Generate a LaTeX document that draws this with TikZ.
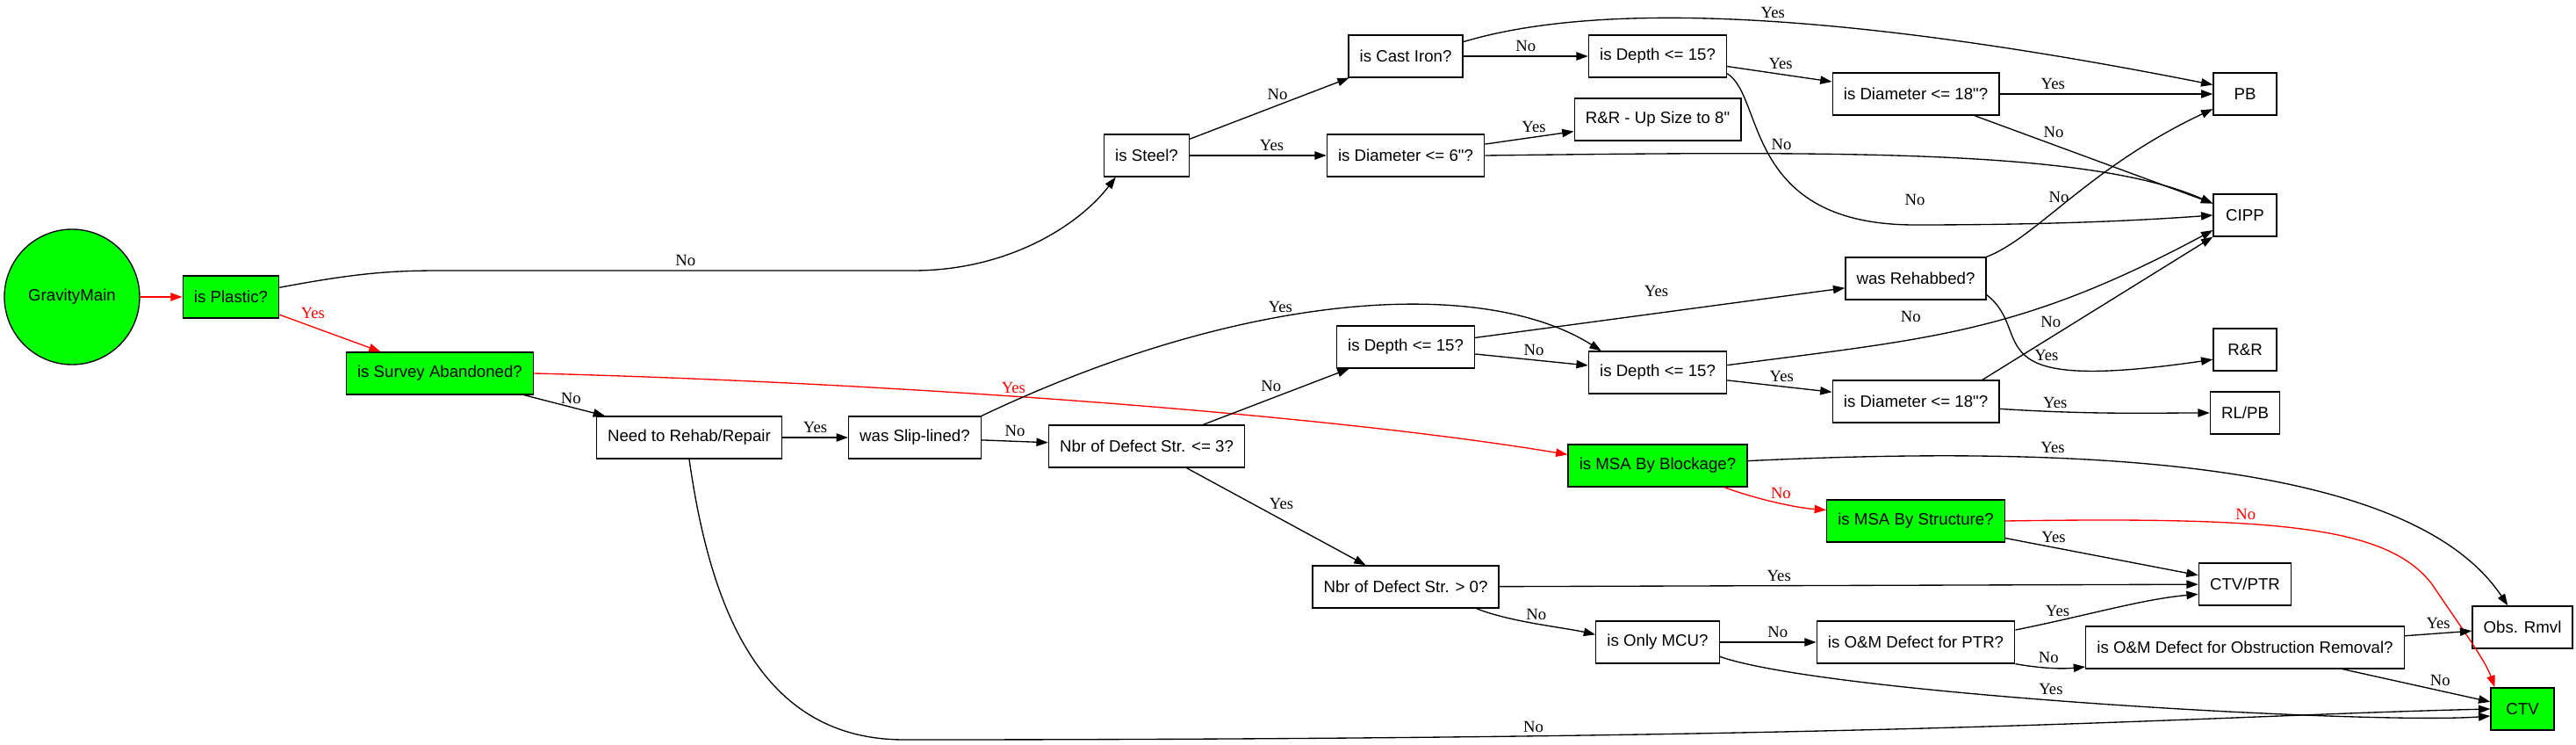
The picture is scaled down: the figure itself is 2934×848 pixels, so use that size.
\documentclass[tikz,border=0pt]{standalone}
\usepackage{fontspec}
\setmainfont{Liberation Serif}
\newfontfamily\boxfont{Liberation Sans}
\usetikzlibrary{arrows.meta}
\definecolor{gvgreen}{RGB}{0,255,0}

\begin{document}
\begin{tikzpicture}[
    x=0.75pt, y=-0.75pt,
    box/.style={draw, rectangle, line width=1pt, minimum width=54pt, minimum height=36pt,
        inner xsep=9.5pt, inner ysep=2pt, font=\boxfont\fontsize{14}{16}\selectfont},
    goal/.style={box, fill=gvgreen},
    startnode/.style={draw, circle, line width=1pt, fill=gvgreen, minimum size=115.5pt,
        inner sep=0pt, font=\boxfont\fontsize{14}{16}\selectfont},
    link/.style={-{Triangle[length=10pt, width=7pt]}, line width=1pt},
    hotlink/.style={link, red},
    lbl/.style={font=\fontsize{14}{16}\selectfont, inner sep=1.5pt},
    hotlbl/.style={lbl, text=red}
    ]
    \useasboundingbox (0,0) rectangle (2934,848);

    % nodes
    \node[startnode] (gm) at (82,338) {GravityMain};
    \node[goal] (plastic) at (263,338) {is Plastic?};
    \node[goal] (survey) at (501,425) {is Survey Abandoned?};
    \node[box] (need) at (785,498) {Need to Rehab/Repair};
    \node[box] (slip) at (1042,498) {was Slip-lined?};
    \node[box] (nbr3) at (1306,508) {Nbr of Defect Str. <= 3?};
    \node[box] (steel) at (1306,177) {is Steel?};
    \node[box] (castiron) at (1601,64) {is Cast Iron?};
    \node[box] (diam6) at (1601,177) {is Diameter <= 6"?};
    \node[box] (depthM) at (1601,395) {is Depth <= 15?};
    \node[box] (nbr0) at (1601,668) {Nbr of Defect Str. > 0?};
    \node[box] (depthT) at (1888,64) {is Depth <= 15?};
    \node[box] (rr8) at (1888,136) {R\&R - Up Size to 8"};
    \node[box] (depthR) at (1888,424) {is Depth <= 15?};
    \node[goal] (blockage) at (1888,530) {is MSA By Blockage?};
    \node[box] (onlymcu) at (1888,731) {is Only MCU?};
    \node[box] (diam18T) at (2182,107) {is Diameter <= 18"?};
    \node[box] (rehab) at (2182,317) {was Rehabbed?};
    \node[box] (diam18L) at (2182,457) {is Diameter <= 18"?};
    \node[goal] (structure) at (2182,593) {is MSA By Structure?};
    \node[box] (ptr) at (2182,731) {is O\&M Defect for PTR?};
    \node[box] (pb) at (2557,107) {PB};
    \node[box] (cipp) at (2557,245) {CIPP};
    \node[box] (rr) at (2557,398) {R\&R};
    \node[box] (rlpb) at (2557,470) {RL/PB};
    \node[box] (ctvptr) at (2557,665) {CTV/PTR};
    \node[box] (obsrem) at (2557,737) {is O\&M Defect for Obstruction Removal?};
    \node[box] (obsrmvl) at (2873,714) {Obs. Rmvl};
    \node[goal] (ctv) at (2873,807) {CTV};

    % root and plastic
    \draw[hotlink] (gm) -- (plastic);
    \draw[hotlink] (plastic) -- (survey) node[hotlbl, pos=0.33, above=5pt] {Yes};
    \draw[link] (plastic.11) .. controls (400,312) and (440,308) .. (500,308) -- (1040,308)
        node[lbl, pos=0.52, above=2pt] {No} .. controls (1150,308) and (1230,255) .. (steel.215);
    \draw[link] (survey) -- (need) node[lbl, pos=0.58, above=1pt] {No};
    \draw[hotlink] (survey.east) .. controls (1000,435) and (1500,470) .. (blockage.173)
        node[hotlbl, pos=0.435, above=1pt] {Yes};

    % rehab / repair
    \draw[link] (need) -- (slip) node[lbl, midway, above=2pt] {Yes};
    \draw[link] (slip) -- (nbr3) node[lbl, midway, above=2pt] {No};
    \draw[link] (slip.north east) .. controls (1420,330) and (1690,315) .. (depthR.159)
        node[lbl, pos=0.4, above=2pt] {Yes};
    \draw[link] (nbr3) -- (depthM) node[lbl, pos=0.55, above left=0pt] {No};
    \draw[link] (nbr3) -- (nbr0) node[lbl, pos=0.45, above right=0pt] {Yes};
    \draw[link] (need.south) .. controls (810,700) and (870,842) .. (1030,842)
        .. controls (2200,842) and (2500,815) .. (ctv.west) node[lbl, pos=0.245, above=1pt] {No};

    % steel
    \draw[link] (steel) -- (castiron) node[lbl, pos=0.55, above=3pt] {No};
    \draw[link] (steel) -- (diam6) node[lbl, pos=0.6, above=2pt] {Yes};
    \draw[link] (castiron.14) .. controls (1829,-1) and (2114,16) .. (pb.164)
        node[lbl, pos=0.52, above=1pt] {Yes};
    \draw[link] (castiron) -- (depthT) node[lbl, midway, above=2pt] {No};
    \draw[link] (depthT) -- (diam18T) node[lbl, pos=0.51, above=2pt] {Yes};
    \draw[link] (depthT.-14) .. controls (2010,110) and (1985,256) .. (2181,256)
        node[lbl, pos=1, above=15pt] {No} .. controls (2350,256) and (2450,250) .. (cipp.west);
    \draw[link] (diam6) -- (rr8) node[lbl, pos=0.55, above=2pt] {Yes};
    \draw[link] (diam6.east) .. controls (2100,172) and (2380,170) .. (cipp.160)
        node[lbl, pos=0.305, above=1pt] {No};
    \draw[link] (diam18T) -- (pb) node[lbl, pos=0.25, above=2pt] {Yes};
    \draw[link] (diam18T) -- (cipp) node[lbl, pos=0.28, above right=0pt] {No};

    % depth / rehabbed
    \draw[link] (rehab.north east) .. controls (2320,270) and (2380,190) .. (pb.205)
        node[lbl, pos=0.5, left=1pt] {No};
    \draw[link] (rehab.-13) .. controls (2320,380) and (2240,450) .. (rr.197)
        node[lbl, pos=0.5, right=5pt] {Yes};
    \draw[link] (depthM) -- (depthR) node[lbl, pos=0.52, above=2pt] {No};
    \draw[link] (depthM) -- (rehab) node[lbl, pos=0.49, above=12pt] {Yes};
    \draw[link] (depthR.6) .. controls (2200,385) and (2300,380) .. (cipp.205)
        node[lbl, pos=0.355, above=13pt] {No};
    \draw[link] (depthR) -- (diam18L) node[lbl, pos=0.52, above=2pt] {Yes};
    \draw[link] (diam18L.18) -- (cipp.south west) node[lbl, pos=0.35, above left=0pt] {No};
    \draw[link] (diam18L.-5) .. controls (2380,472) and (2450,470) .. (rlpb.west)
        node[lbl, pos=0.22, above=1pt] {Yes};

    % msa
    \draw[link] (blockage.3) .. controls (2400,505) and (2750,530) .. (obsrmvl.124)
        node[lbl, pos=0.3, above=2pt] {Yes};
    \draw[hotlink] (blockage.-18) .. controls (2000,568) and (2045,578) .. (structure.173)
        node[hotlbl, pos=0.55, above=2pt] {No};
    \draw[hotlink] (structure.east) .. controls (2600,588) and (2720,600) .. (2770,665)
        node[hotlbl, pos=0.365, above=1pt] {No} .. controls (2800,710) and (2830,750) .. (ctv.142);
    \draw[link] (structure) -- (ctvptr) node[lbl, pos=0.25, above=2pt] {Yes};

    % defects
    \draw[link] (nbr0) -- (ctvptr) node[lbl, pos=0.4, above=2pt] {Yes};
    \draw[link] (nbr0.-17) .. controls (1720,708) and (1780,714) .. (onlymcu.173)
        node[lbl, pos=0.5, above=1pt] {No};
    \draw[link] (onlymcu) -- (ptr) node[lbl, pos=0.6, above=2pt] {No};
    \draw[link] (onlymcu.-13) .. controls (2080,790) and (2700,825) .. ([yshift=-6pt]ctv.west)
        node[lbl, pos=0.45, above=3pt] {Yes};
    \draw[link] (ptr.7) .. controls (2380,700) and (2440,682) .. (ctvptr.192)
        node[lbl, pos=0.2, above=2pt] {Yes};
    \draw[link] (ptr.south east) .. controls (2320,760) and (2345,762) .. ([yshift=2pt]obsrem.south west)
        node[lbl, pos=0.5, above=2pt] {No};
    \draw[link] (obsrem) -- (obsrmvl) node[lbl, midway, above=2pt] {Yes};
    \draw[link] (obsrem) -- (ctv) node[lbl, pos=0.66, above=2pt] {No};

\end{tikzpicture}
\end{document}
